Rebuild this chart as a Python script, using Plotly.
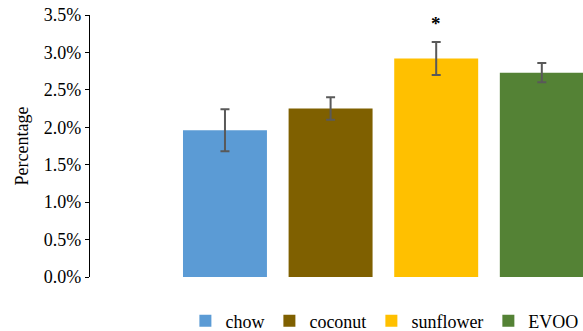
import plotly.graph_objects as go

categories = ["chow", "coconut", "sunflower", "EVOO"]
values = [1.96, 2.25, 2.92, 2.73]
errors = [0.28, 0.15, 0.22, 0.13]
colors = ["#5B9BD5", "#7F6000", "#FFC000", "#548235"]
tick_vals = [0, 0.5, 1.0, 1.5, 2.0, 2.5, 3.0, 3.5]
tick_text = ["0.0%", "0.5%", "1.0%", "1.5%", "2.0%", "2.5%", "3.0%", "3.5%"]

FONT = "Liberation Serif"

fig = go.Figure()
for i, (c, v, e, col) in enumerate(zip(categories, values, errors, colors)):
    fig.add_trace(go.Bar(
        x=[i], y=[v], name=c, marker=dict(color=col, line=dict(width=0)),
        width=0.795,
        error_y=dict(type="data", array=[e], visible=True, color="#595959",
                     thickness=2, width=4.5),
    ))

fig.add_annotation(x=2, y=values[2] + errors[2], text="<b>*</b>", showarrow=False,
                   yshift=18, font=dict(family=FONT, size=19, color="black"))

fig.update_layout(
    width=583, height=331,
    margin=dict(l=90, r=0, t=15, b=54, autoexpand=False),
    plot_bgcolor="white", paper_bgcolor="white",
    barmode="overlay",
    font=dict(family=FONT, size=18, color="black"),
    showlegend=True,
    legend=dict(orientation="h", xref="container", yref="container",
                x=0.318, xanchor="left", y=0.03, yanchor="middle",
                font=dict(family=FONT, size=18, color="black"), itemwidth=30),
    xaxis=dict(range=[-1.278, 3.39], showticklabels=False, showline=False,
               showgrid=False, zeroline=False, ticks=""),
    yaxis=dict(range=[0, 3.5], tickvals=tick_vals, ticktext=tick_text,
               tickfont=dict(family=FONT, size=18, color="black"),
               showline=True, linecolor="black", linewidth=1.2,
               ticks="outside", ticklen=4, tickcolor="black",
               showgrid=False, zeroline=False,
               title=dict(text="Percentage", font=dict(family=FONT, size=18, color="black"), standoff=10)),
)

fig.write_html("out.html")
